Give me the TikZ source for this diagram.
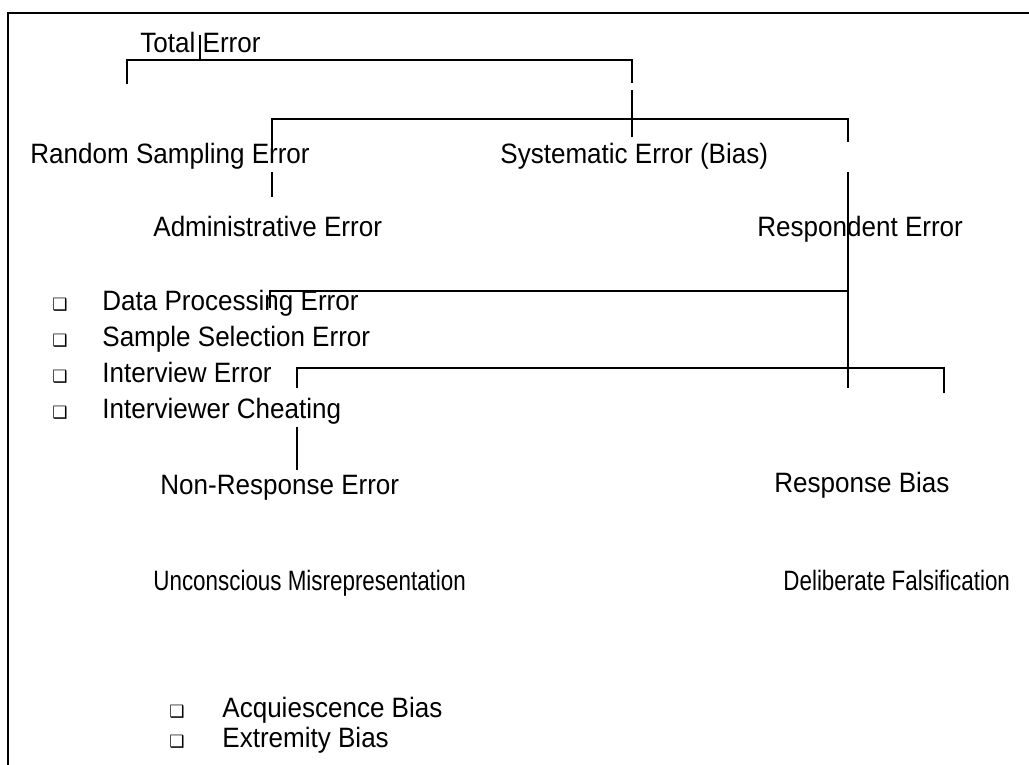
\documentclass[tikz,border=0pt]{standalone}
\usepackage{fontspec}
\setmainfont{Liberation Sans}
\newfontfamily\labelfont[FakeStretch=0.93]{Liberation Sans}
\newfontfamily\narrowfont[FakeStretch=0.8]{Liberation Sans}
\newfontfamily\symfont{DejaVu Sans}

\begin{document}
\begin{tikzpicture}[
  x=0.5pt,y=-0.5pt,
  label/.style={anchor=base west,inner sep=0pt,font=\labelfont\fontsize{14}{16}\selectfont},
  narrow/.style={label,font=\narrowfont\fontsize{14}{16}\selectfont},
  tick/.style={anchor=base,inner sep=0pt,font=\symfont\fontsize{8.5}{9}\selectfont},
  link/.style={line width=0.8pt},
  frame/.style={line width=1pt}
]
  \useasboundingbox (0,0) rectangle (1029,765);
  \draw[frame] (8,765) -- (8,13) -- (1029,13);

  \node[label] (total) at (140,53) {Total Error};
  \node[label] (random) at (30,163) {Random Sampling Error};
  \node[label] (systematic) at (500,163) {Systematic Error (Bias)};
  \node[label] (admin) at (153,236) {Administrative Error};
  \node[label] (respondent) at (757,236) {Respondent Error};

  \node[tick] (b1) at (60,310) {❑};
  \node[label] (dataproc) at (102,310) {Data Processing Error};
  \node[tick] (b2) at (60,346) {❑};
  \node[label] (samplesel) at (102,346) {Sample Selection Error};
  \node[tick] (b3) at (60,382) {❑};
  \node[label] (interview) at (102,382) {Interview Error};
  \node[tick] (b4) at (60,418) {❑};
  \node[label] (cheating) at (102,418) {Interviewer Cheating};

  \node[label] (nonresp) at (160,494) {Non-Response Error};
  \node[label] (respbias) at (774,492) {Response Bias};
  \node[narrow] (unconscious) at (153,590) {Unconscious Misrepresentation};
  \node[narrow] (deliberate) at (783,590) {Deliberate Falsification};

  \node[tick] (b5) at (177,717) {❑};
  \node[label] (acquiesce) at (222,717) {Acquiescence Bias};
  \node[tick] (b6) at (177,747) {❑};
  \node[label] (extremity) at (222,747) {Extremity Bias};

  % bracket ends
  \coordinate (totTop) at (200,35);
  \coordinate (totL) at (127,84);
  \coordinate (totR) at (632,83);
  \coordinate (sysTop) at (632,90);
  \coordinate (sysBot) at (632,137);
  \coordinate (admL) at (272,150);
  \coordinate (admStubA) at (272,172);
  \coordinate (admStubB) at (272,197);
  \coordinate (resR) at (848,142);
  \coordinate (resTop) at (848,172);
  \coordinate (resBot) at (848,388);
  \coordinate (procEnd) at (270,308);
  \coordinate (nonL) at (297,388);
  \coordinate (biasR) at (944,393);
  \coordinate (nonStubA) at (297,427);
  \coordinate (nonStubB) at (297,470);

  \draw[link] (totL) -- (127,60) -- (632,60) -- (totR);
  \draw[link] (totTop) -- (200,60);
  \draw[link] (sysTop) -- (sysBot);
  \draw[link] (admL) -- (272,119) -- (848,119) -- (resR);
  \draw[link] (admStubA) -- (admStubB);
  \draw[link] (resTop) -- (resBot);
  \draw[link] (848,291) -- (270,291) -- (procEnd);
  \draw[link] (nonL) -- (297,368) -- (944,368) -- (biasR);
  \draw[link] (nonStubA) -- (nonStubB);
\end{tikzpicture}
\end{document}
